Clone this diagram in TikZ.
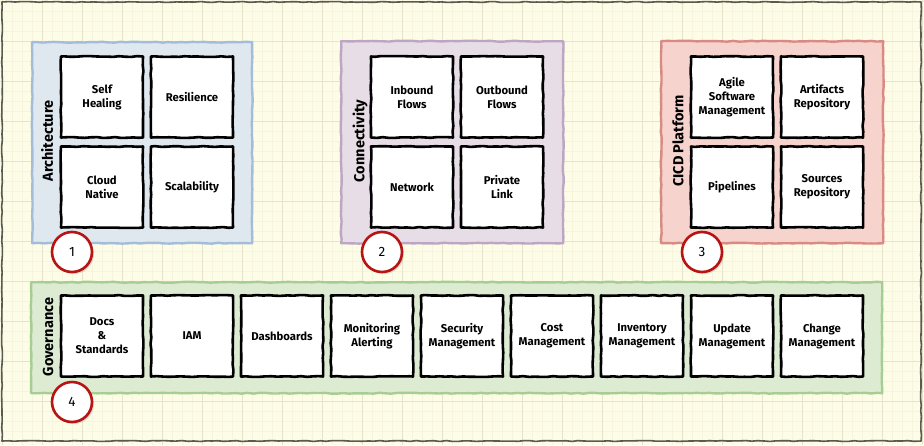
\documentclass[tikz,border=0pt]{standalone}
\usepackage{fontspec}
\setmainfont{Fira Sans}
\usetikzlibrary{decorations.pathmorphing,shadows}
\definecolor{bgc}{HTML}{FDFCE6}
\definecolor{minorc}{HTML}{F6F4DF}
\definecolor{majorc}{HTML}{E6E3CA}
\definecolor{framec}{HTML}{5A5A55}
\definecolor{archf}{HTML}{DFE7EF}
\definecolor{archd}{HTML}{A3BCDA}
\definecolor{connf}{HTML}{E7DDE6}
\definecolor{connd}{HTML}{BDA6C3}
\definecolor{cicdf}{HTML}{F6D3CD}
\definecolor{cicdd}{HTML}{D98A84}
\definecolor{govf}{HTML}{DDEBD3}
\definecolor{govd}{HTML}{A6CE92}
\definecolor{numd}{HTML}{B81414}
\tikzset{
  sketch/.style={decorate, decoration={random steps, segment length=6pt, amplitude=0.45pt}, line join=round},
  grp/.style={sketch, line width=2.4pt, anchor=north west, inner sep=0pt},
  item/.style={sketch, draw=black, fill=white, line width=2.6pt, minimum width=82pt, minimum height=81pt,
    align=center, font=\fontsize{11.3}{14}\selectfont\bfseries, inner sep=1pt},
  glabel/.style={rotate=90, font=\fontsize{14.5}{16}\selectfont\bfseries},
  num/.style={circle, draw=numd, fill=white, line width=2.6pt, minimum size=40pt, inner sep=0pt,
    font=\fontsize{13.5}{15}\selectfont, drop shadow={shadow xshift=2pt, shadow yshift=-2pt, opacity=0.25}},
}
\begin{document}
\begin{tikzpicture}[x=1pt,y=-1pt]
\pgfmathsetseed{7}
\useasboundingbox (0,0) rectangle (924,445);
\fill[bgc] (0,0) rectangle (924,445);
\foreach \x in {2,12,...,922} \draw[minorc, line width=0.5pt] (\x,0) -- (\x,445);
\foreach \y in {1,11,...,441} \draw[minorc, line width=0.5pt] (0,\y) -- (924,\y);
\foreach \x in {2,42,...,922} \draw[majorc, line width=0.7pt] (\x,0) -- (\x,445);
\foreach \y in {1,41,...,441} \draw[majorc, line width=0.7pt] (0,\y) -- (924,\y);
\draw[sketch, framec, line width=1.6pt] (2,2) rectangle (921,441);

% groups
\node[grp, draw=archd, fill=archf, minimum width=220pt, minimum height=201pt] (arch) at (31,41) {};
\node[grp, draw=connd, fill=connf, minimum width=222pt, minimum height=202pt] (conn) at (340,40) {};
\node[grp, draw=cicdd, fill=cicdf, minimum width=222pt, minimum height=202pt] (cicd) at (660,40) {};
\node[grp, draw=govd, fill=govf, minimum width=851pt, minimum height=111pt] (gov) at (30,281) {};

\node[glabel] (archl) at (47,141) {Architecture};
\node[glabel] (connl) at (360,141) {Connectivity};
\node[glabel] (cicdl) at (678,141) {CICD Platform};
\node[glabel] (govl) at (48,337) {Governance};

% architecture
\node[item] (selfh) at (102,97) {Self\\Healing};
\node[item] (resil) at (192,97) {Resilience};
\node[item] (cloudn) at (102,187) {Cloud\\Native};
\node[item] (scal) at (192,187) {Scalability};
% connectivity
\node[item] (inb) at (412,97) {Inbound\\Flows};
\node[item] (outb) at (502,97) {Outbound\\Flows};
\node[item] (netw) at (412,187) {Network};
\node[item] (plink) at (502,187) {Private\\Link};
% cicd
\node[item] (agile) at (732,97) {Agile\\Software\\Management};
\node[item] (artif) at (822,97) {Artifacts\\Repository};
\node[item] (pipe) at (732,187) {Pipelines};
\node[item] (srcs) at (822,187) {Sources\\Repository};
% governance
\node[item] (docs) at (102,336) {Docs\\\&\\Standards};
\node[item] (iam) at (192,336) {IAM};
\node[item] (dash) at (282,336) {Dashboards};
\node[item] (moni) at (372,336) {Monitoring\\Alerting};
\node[item] (secm) at (462,336) {Security\\Management};
\node[item] (cost) at (552,336) {Cost\\Management};
\node[item] (inv) at (642,336) {Inventory\\Management};
\node[item] (upd) at (732,336) {Update\\Management};
\node[item] (chg) at (822,336) {Change\\Management};

% numbers
\node[num] (n1) at (72,252) {1};
\node[num] (n2) at (382,252) {2};
\node[num] (n3) at (702,252) {3};
\node[num] (n4) at (72,402) {4};
\end{tikzpicture}
\end{document}
